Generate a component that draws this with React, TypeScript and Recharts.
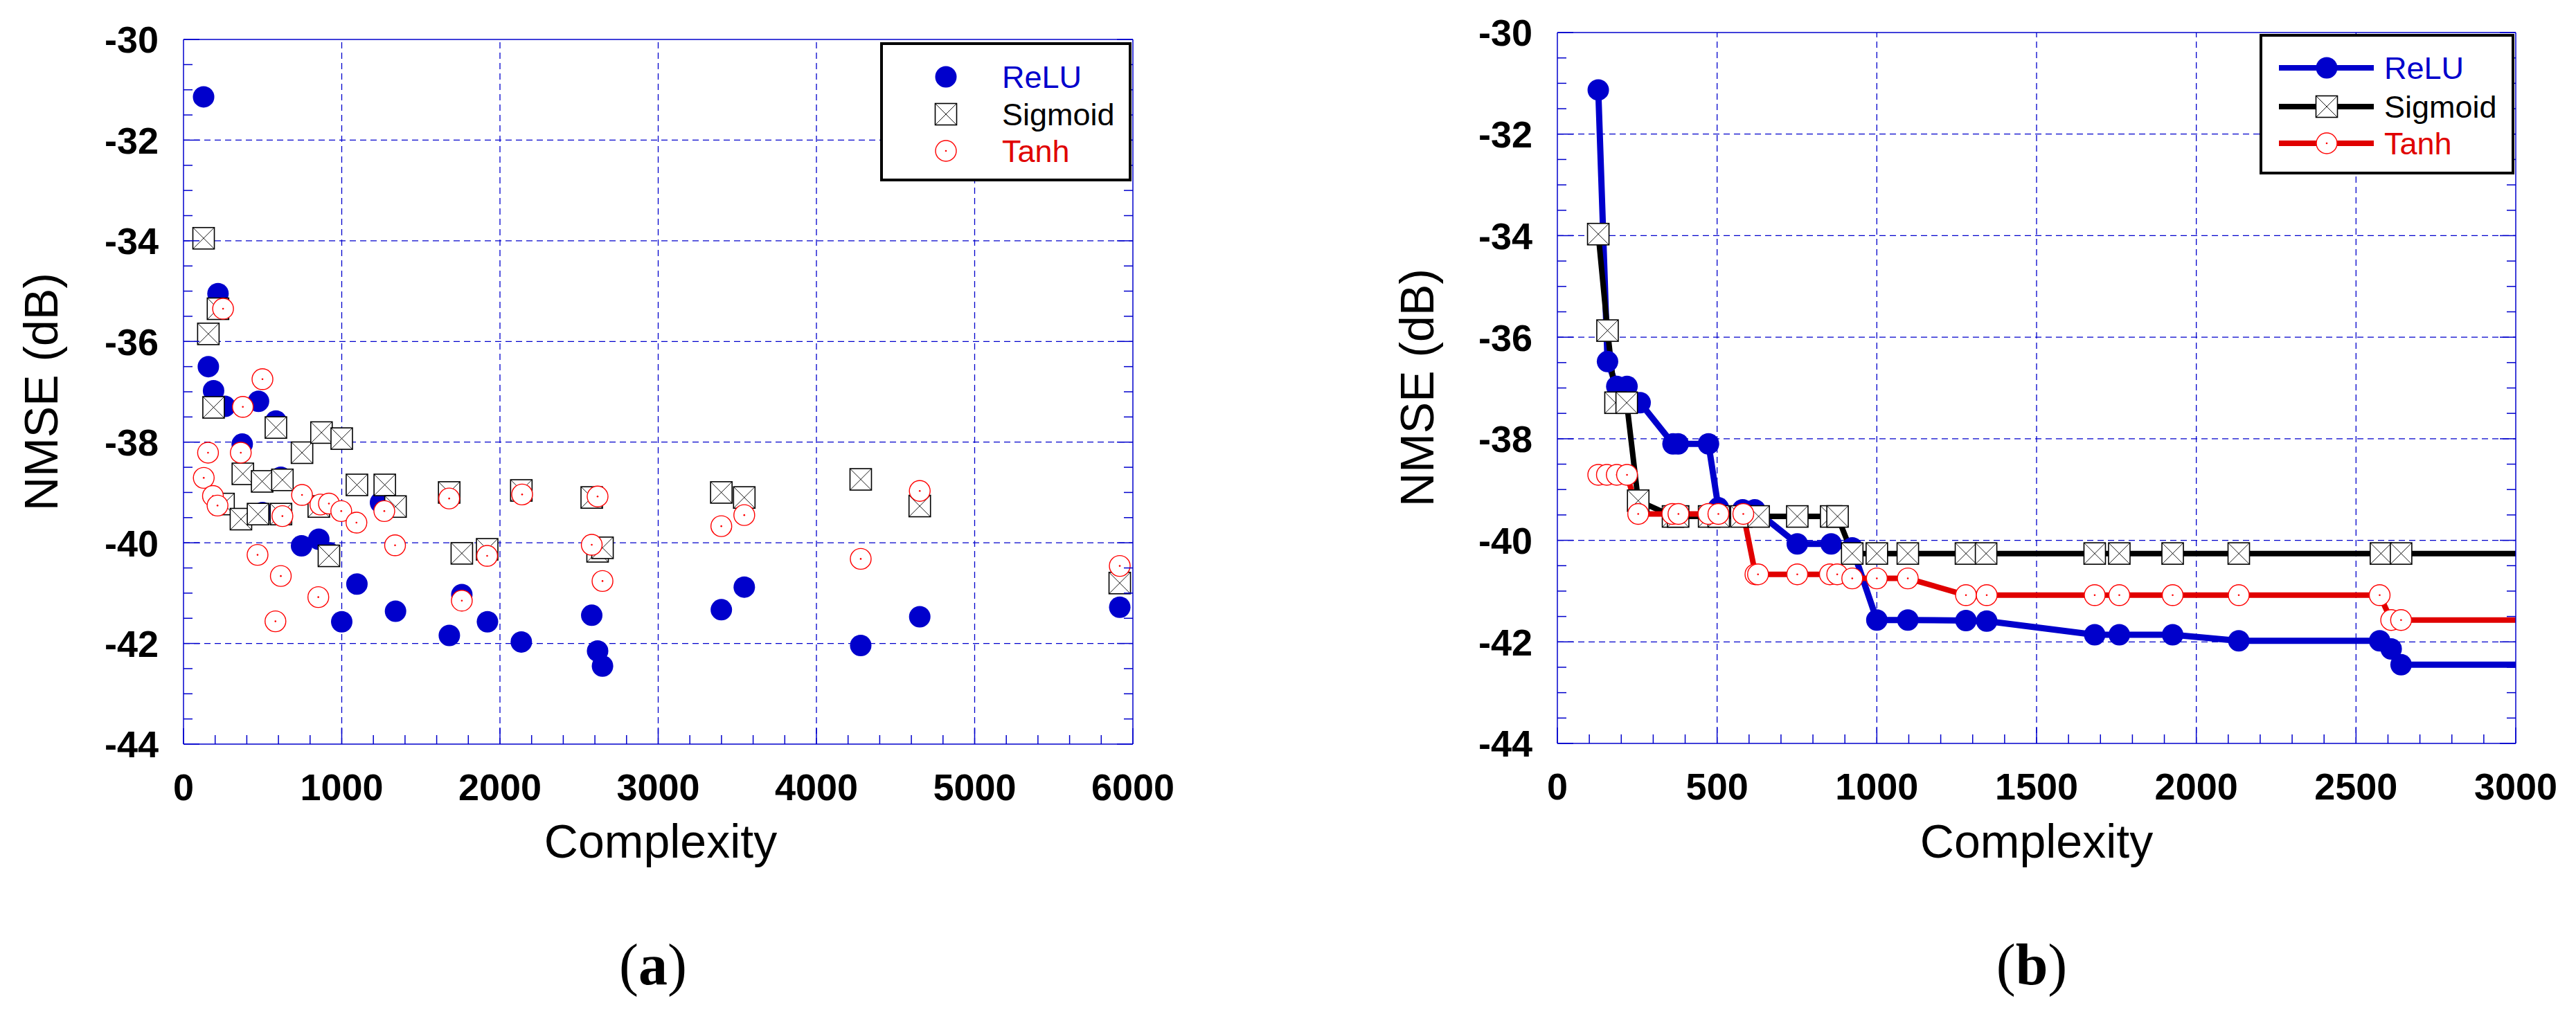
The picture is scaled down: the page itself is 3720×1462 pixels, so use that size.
import React from 'react';
import { LineChart, Line, ReferenceLine, Scatter, ScatterChart, XAxis, YAxis } from 'recharts';

// (a) every trained network: [complexity, NMSE dB]
const reluA: [number, number][] = [
  [127, -31.14], [157, -36.5], [190, -36.98], [218, -35.05], [262, -37.29], [371, -38.04],
  [474, -37.19], [499, -39.4], [584, -37.58], [615, -38.7], [746, -40.06], [855, -39.93],
  [920, -40.2], [1000, -41.57], [1096, -40.82], [1245, -39.2], [1340, -41.36], [1680, -41.84],
  [1759, -41.03], [1921, -41.57], [2135, -41.97], [2580, -41.44], [2617, -42.15], [2648, -42.45],
  [3399, -41.33], [3544, -40.88], [4280, -42.04], [4653, -41.47], [5917, -41.28],
];
const sigmoidA: [number, number][] = [
  [127, -33.95], [157, -35.85], [190, -37.31], [218, -35.35], [253, -39.23], [363, -39.53],
  [375, -38.63], [471, -39.43], [497, -38.78], [584, -37.71], [616, -39.43], [625, -38.75],
  [749, -38.21], [855, -39.28], [872, -37.81], [919, -40.26], [1000, -37.93], [1096, -38.85],
  [1272, -38.85], [1340, -39.28], [1679, -39.0], [1759, -40.21], [1919, -40.13], [2135, -38.96],
  [2580, -39.1], [2617, -40.17], [2648, -40.1], [3399, -39.0], [3544, -39.1], [4280, -38.74],
  [4653, -39.27], [5917, -40.8],
];
const tanhA: [number, number][] = [
  [128, -38.71], [155, -38.21], [186, -39.07], [215, -39.26], [250, -35.35], [362, -38.21],
  [375, -37.3], [468, -40.24], [499, -36.75], [581, -41.56], [615, -40.66], [625, -39.47],
  [749, -39.05], [852, -41.08], [865, -39.24], [919, -39.22], [997, -39.37], [1093, -39.6],
  [1269, -39.37], [1337, -40.05], [1679, -39.12], [1759, -41.15], [1919, -40.26], [2140, -39.04],
  [2580, -40.04], [2617, -39.08], [2648, -40.76], [3399, -39.67], [3544, -39.45], [4280, -40.32],
  [4653, -38.97], [5917, -40.46],
];

// (b) best NMSE reached up to each complexity
const reluB: [number, number][] = [
  [128, -31.13], [157, -36.48], [186, -36.97], [218, -36.97], [259, -37.29], [362, -38.1],
  [378, -38.1], [473, -38.1], [504, -39.36], [580, -39.4], [618, -39.4], [751, -40.07],
  [857, -40.07], [923, -40.15], [1000, -41.57], [1097, -41.57], [1279, -41.58], [1344, -41.59],
  [1682, -41.86], [1759, -41.86], [1926, -41.86], [2133, -41.98], [2574, -41.98], [2610, -42.14],
  [2641, -42.45], [3399, -42.45],
];
const sigmoidB: [number, number][] = [
  [128, -33.97], [157, -35.87], [182, -37.29], [217, -37.29], [253, -39.22], [362, -39.53],
  [378, -39.53], [475, -39.53], [505, -39.53], [576, -39.53], [630, -39.53], [751, -39.53],
  [857, -39.53], [877, -39.53], [923, -40.26], [1000, -40.26], [1097, -40.26], [1279, -40.26],
  [1342, -40.26], [1682, -40.26], [1759, -40.26], [1926, -40.26], [2133, -40.26], [2578, -40.26],
  [2641, -40.26], [3399, -40.26],
];
const tanhB: [number, number][] = [
  [128, -38.71], [155, -38.71], [186, -38.71], [218, -38.71], [253, -39.48], [360, -39.48],
  [379, -39.48], [473, -39.48], [504, -39.48], [582, -39.48], [620, -40.67], [628, -40.67],
  [751, -40.67], [853, -40.67], [876, -40.67], [923, -40.75], [1000, -40.75], [1097, -40.75],
  [1279, -41.08], [1344, -41.08], [1682, -41.08], [1759, -41.08], [1926, -41.08], [2133, -41.08],
  [2574, -41.08], [2610, -41.57], [2641, -41.57], [3399, -41.57],
];

const yTicks = [-44, -42, -40, -38, -36, -34, -32, -30];
const xTicksA = [0, 1000, 2000, 3000, 4000, 5000, 6000];
const xTicksB = [0, 500, 1000, 1500, 2000, 2500, 3000];
const seriesNames = ['ReLU', 'Sigmoid', 'Tanh'];

const yMinor = Array.from({ length: 29 }, (_, i) => -44 + i * 0.5);
const xMinorA = Array.from({ length: 31 }, (_, i) => i * 200);
const xMinorB = Array.from({ length: 31 }, (_, i) => i * 100);

const BLUE = '#0000cc';
const RED = '#e00000';
const SANS = "'Liberation Sans', Arial, sans-serif";
const SERIF = "'Liberation Serif', 'Times New Roman', serif";

const toPoints = (rows: [number, number][]) => rows.map(([x, y]) => ({ x, y }));

type Side = 'bottom' | 'top' | 'left' | 'right';

// one tick per minor step, drawn inwards; major ones are longer and carry the label
function tickRenderer(side: Side, majors: number[], label: boolean) {
  return (props: any) => {
    const { x, y, payload } = props;
    const v = payload.value as number;
    const isMajor = majors.some((m) => Math.abs(m - v) < 1e-6);
    const len = isMajor ? 23 : 13;
    const dx = side === 'left' ? len : side === 'right' ? -len : 0;
    const dy = side === 'bottom' ? -len : side === 'top' ? len : 0;
    return (
      <g>
        <line x1={x} y1={y} x2={x + dx} y2={y + dy} stroke={BLUE} strokeWidth={1.5} />
        {label && isMajor && side === 'bottom' && (
          <text x={x} y={y + 81} textAnchor="middle" fontFamily={SANS} fontWeight="bold" fontSize={54} fill="#000">
            {v}
          </text>
        )}
        {label && isMajor && side === 'left' && (
          <text x={x - 36} y={y} dy="0.36em" textAnchor="end" fontFamily={SANS} fontWeight="bold" fontSize={54} fill="#000">
            {v}
          </text>
        )}
      </g>
    );
  };
}

function ReluMark({ cx, cy }: { cx: number; cy: number }) {
  return <circle cx={cx} cy={cy} r={15.5} fill={BLUE} />;
}

function SigmoidMark({ cx, cy }: { cx: number; cy: number }) {
  const h = 15.5;
  return (
    <g>
      <rect x={cx - h} y={cy - h} width={h * 2} height={h * 2} fill="#fff" stroke="#000" strokeWidth={1.6} />
      <line x1={cx - h} y1={cy - h} x2={cx + h} y2={cy + h} stroke="#000" strokeWidth={0.9} />
      <line x1={cx - h} y1={cy + h} x2={cx + h} y2={cy - h} stroke="#000" strokeWidth={0.9} />
    </g>
  );
}

function TanhMark({ cx, cy }: { cx: number; cy: number }) {
  return (
    <g>
      <circle cx={cx} cy={cy} r={15} fill="#fff" stroke="#ff0000" strokeWidth={1.4} />
      <circle cx={cx} cy={cy} r={1.3} fill="#ff0000" />
    </g>
  );
}

const marks = [ReluMark, SigmoidMark, TanhMark];

// the four framing axes (ticks on every side) plus dashed grid at the major values
function frame(xMax: number, xMinor: number[], xMajor: number[]) {
  const common = {
    type: 'number' as const,
    allowDataOverflow: true,
    interval: 0 as const,
    tickSize: 0,
    tickMargin: 0,
    tickLine: false,
    axisLine: { stroke: BLUE, strokeWidth: 1.5 },
  };
  return [
    <XAxis key="xb" {...common} dataKey="x" domain={[0, xMax]} ticks={xMinor} height={1} tick={tickRenderer('bottom', xMajor, true)} />,
    <XAxis key="xt" {...common} xAxisId="top" orientation="top" domain={[0, xMax]} ticks={xMinor} height={1} tick={tickRenderer('top', xMajor, false)} />,
    <YAxis key="yl" {...common} dataKey="y" domain={[-44, -30]} ticks={yMinor} width={1} tick={tickRenderer('left', yTicks, true)} />,
    <YAxis key="yr" {...common} yAxisId="right" orientation="right" domain={[-44, -30]} ticks={yMinor} width={1} tick={tickRenderer('right', yTicks, false)} />,
    ...xMajor.slice(1, -1).map((v) => (
      <ReferenceLine key={`gx${v}`} x={v} stroke={BLUE} strokeWidth={1.3} strokeDasharray="9 6" />
    )),
    ...yTicks.slice(1, -1).map((v) => (
      <ReferenceLine key={`gy${v}`} y={v} stroke={BLUE} strokeWidth={1.3} strokeDasharray="9 6" />
    )),
  ];
}

function ScatterPanel() {
  return (
    <ScatterChart width={1860} height={1462} margin={{ top: 56, right: 223, bottom: 386, left: 264 }}>
      {frame(6000, xMinorA, xTicksA)}
      {[reluA, sigmoidA, tanhA].map((rows, i) => {
        const Mark = marks[i];
        return (
          <Scatter
            key={seriesNames[i]}
            name={seriesNames[i]}
            data={toPoints(rows)}
            isAnimationActive={false}
            shape={(p: any) => <Mark cx={p.cx} cy={p.cy} />}
          />
        );
      })}
    </ScatterChart>
  );
}

function LinePanel() {
  const lineColors = [BLUE, '#000', RED];
  const widths = [9, 8, 8];
  return (
    <LineChart width={1860} height={1462} margin={{ top: 46, right: 86, bottom: 387, left: 388 }}>
      {frame(3000, xMinorB, xTicksB)}
      {[reluB, sigmoidB, tanhB].map((rows, i) => {
        const Mark = marks[i];
        return (
          <Line
            key={seriesNames[i]}
            name={seriesNames[i]}
            data={toPoints(rows)}
            dataKey="y"
            type="linear"
            stroke={lineColors[i]}
            strokeWidth={widths[i]}
            strokeLinejoin="round"
            isAnimationActive={false}
            dot={(p: any) => <Mark key={`${seriesNames[i]}-${p.index}`} cx={p.cx} cy={p.cy} />}
          />
        );
      })}
    </LineChart>
  );
}

function LegendBox({ x, y, w, h, withLine, markX, textX, rows }: any) {
  const colors = [BLUE, '#000', RED];
  return (
    <g>
      <rect x={x + 2} y={y + 2} width={w - 4} height={h - 4} fill="#fff" stroke="#000" strokeWidth={4} />
      {seriesNames.map((name, i) => {
        const Mark = marks[i];
        return (
          <g key={name}>
            {withLine && (
              <line x1={withLine[0]} x2={withLine[1]} y1={rows[i]} y2={rows[i]} stroke={colors[i]} strokeWidth={8} />
            )}
            <Mark cx={markX} cy={rows[i]} />
            <text x={textX} y={rows[i] + 16} fontFamily={SANS} fontSize={45} fill={colors[i]}>
              {name}
            </text>
          </g>
        );
      })}
    </g>
  );
}

export default function App() {
  return (
    <div style={{ position: 'absolute', left: 0, top: 0, width: 3720, height: 1462, background: '#fff' }}>
      <div style={{ position: 'absolute', left: 0, top: 0 }}>
        <ScatterPanel />
      </div>
      <div style={{ position: 'absolute', left: 1860, top: 0 }}>
        <LinePanel />
      </div>
      <svg width={3720} height={1462} style={{ position: 'absolute', left: 0, top: 0, pointerEvents: 'none' }}>
        <LegendBox x={1271} y={61} w={363} h={201} markX={1366} textX={1447} rows={[111, 165, 218]} />
        <LegendBox x={3263} y={49} w={368} h={203} withLine={[3291, 3428]} markX={3360} textX={3443} rows={[98, 154, 207]} />

        <text transform="translate(83,566) rotate(-90)" textAnchor="middle" fontFamily={SANS} fontSize={68} fill="#000">
          NMSE (dB)
        </text>
        <text transform="translate(2070,560) rotate(-90)" textAnchor="middle" fontFamily={SANS} fontSize={68} fill="#000">
          NMSE (dB)
        </text>
        <text x={954} y={1239} textAnchor="middle" fontFamily={SANS} fontSize={68} fill="#000">
          Complexity
        </text>
        <text x={2941} y={1239} textAnchor="middle" fontFamily={SANS} fontSize={68} fill="#000">
          Complexity
        </text>
        <text x={943} y={1422} textAnchor="middle" fontFamily={SERIF} fontSize={84} fill="#000">
          (<tspan fontWeight="bold">a</tspan>)
        </text>
        <text x={2934} y={1422} textAnchor="middle" fontFamily={SERIF} fontSize={84} fill="#000">
          (<tspan fontWeight="bold">b</tspan>)
        </text>
      </svg>
    </div>
  );
}
